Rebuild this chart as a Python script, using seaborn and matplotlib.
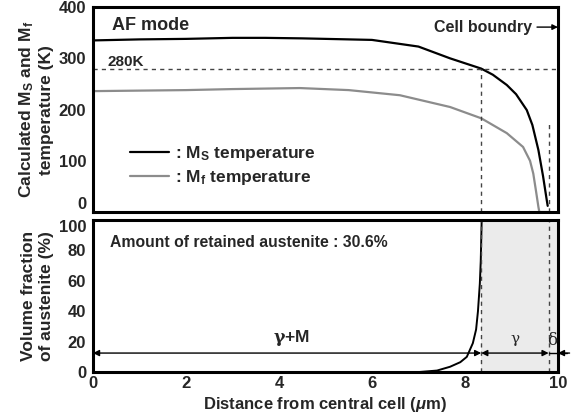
import numpy as np
import pandas as pd
import matplotlib
matplotlib.use("Agg")
import matplotlib.pyplot as plt
import seaborn as sns

# ---- data ----
ms_x = [0, 1, 2, 3, 3.7, 4.5, 5, 6, 7, 7.68, 8.35, 8.6, 8.9, 9.1, 9.33, 9.45, 9.58, 9.68, 9.76, 9.78]
ms_y = [335, 337, 338, 340, 340, 339, 338, 336, 323, 300, 280, 268, 248, 230, 199, 170, 121, 70, 23, 12]
mf_x = [0, 1, 2, 3, 4.45, 5.5, 6.6, 7.68, 8.35, 8.9, 9.25, 9.4, 9.47, 9.53, 9.58, 9.6, 9.8]
mf_y = [236, 237, 238, 240, 242, 238, 228, 205, 183, 154, 127, 100, 75, 40, 10, 0, 0]
fr_x = [0, 7.0, 7.4, 7.68, 7.9, 8.04, 8.17, 8.24, 8.28, 8.32, 8.34, 8.36]
fr_y = [0, 0, 1, 3.5, 6.5, 10, 19, 28, 40, 58, 73, 100]
ms_280_x = 8.35
delta_x = 9.8
x_ticks = [0, 2, 4, 6, 8, 10]
top_yticks = [0, 100, 200, 300, 400]
bot_yticks = [0, 20, 40, 60, 80, 100]

sns.set_style("white")
plt.rcParams['font.family'] = ['Liberation Sans', 'DejaVu Sans']
plt.rcParams['font.weight'] = 'bold'
plt.rcParams['mathtext.fontset'] = 'custom'
plt.rcParams['mathtext.rm'] = 'Liberation Sans:bold'
plt.rcParams['mathtext.bf'] = 'Liberation Sans:bold'
plt.rcParams['mathtext.it'] = 'Liberation Sans:italic:bold'

fig = plt.figure(figsize=(5.74, 4.19), dpi=100)
ax1 = fig.add_axes([0.162, 0.494, 0.810, 0.489])
ax2 = fig.add_axes([0.162, 0.112, 0.810, 0.363])

df_ms = pd.DataFrame({"x": ms_x, "y": ms_y})
df_mf = pd.DataFrame({"x": mf_x, "y": mf_y})
df_fr = pd.DataFrame({"x": fr_x, "y": fr_y})

sns.lineplot(data=df_ms, x="x", y="y", ax=ax1, color="black", lw=1.6, sort=False,
             label=r": $\mathbf{M_S}$ temperature")
sns.lineplot(data=df_mf, x="x", y="y", ax=ax1, color="#8c8c8c", lw=1.6, sort=False,
             label=r": $\mathbf{M_f}$ temperature")
ax1.axhline(280, color="#444444", lw=1.0, ls=(0, (3, 3)))
ax1.plot([ms_280_x, ms_280_x], [0, 280], color="#444444", lw=1.0, ls=(0, (3, 3)))
ax1.plot([delta_x, delta_x], [0, 175], color="#444444", lw=1.0, ls=(0, (3, 3)))

leg = ax1.legend(loc="lower left", bbox_to_anchor=(0.045, 0.045), frameon=False,
                 handlelength=2.3, handletextpad=0.3, labelspacing=0.3,
                 prop={"size": 12.5, "weight": "bold"})

ax1.text(0.4, 364, "AF mode", fontsize=13, fontweight="bold", va="center")
ax1.text(0.32, 292, "280K", fontsize=11, fontweight="bold", va="center")
ax1.annotate("", xy=(10.0, 361), xytext=(9.55, 361),
             arrowprops=dict(arrowstyle="-|>", color="black", lw=1.0, mutation_scale=8,
                             shrinkA=0, shrinkB=0))
ax1.text(9.45, 361, "Cell boundry", fontsize=11.5, fontweight="bold", ha="right", va="center")

ax1.set_xlim(0, 10)
ax1.set_ylim(0, 400)
ax1.set_xticks(x_ticks)
ax1.set_xticklabels([])
ax1.set_yticks(top_yticks)
ax1.set_xlabel("")
ax1.set_ylabel("Calculated M$_\\mathbf{S}$ and M$_\\mathbf{f}$\ntemperature (K)",
               fontsize=12.5, fontweight="bold", labelpad=3, linespacing=1.3)

# bottom panel
ax2.axvspan(ms_280_x, 10, color="#ebebeb", lw=0)
sns.lineplot(data=df_fr, x="x", y="y", ax=ax2, color="black", lw=1.4, sort=False)
ax2.axvline(ms_280_x, color="#444444", lw=1.0, ls=(0, (3, 3)))
ax2.axvline(delta_x, color="#444444", lw=1.0, ls=(0, (3, 3)))

ay = 12.5
ap = dict(arrowstyle="<|-|>", color="black", lw=1.0, mutation_scale=9, shrinkA=0, shrinkB=0)
ax2.annotate("", xy=(0, ay), xytext=(ms_280_x, ay), arrowprops=ap)
ax2.annotate("", xy=(ms_280_x, ay), xytext=(delta_x, ay), arrowprops=ap)
ax2.plot([delta_x, 10.2], [ay, ay], color="black", lw=1.0, clip_on=False)
ax2.annotate("", xy=(10.0, ay), xytext=(10.25, ay),
             arrowprops=dict(arrowstyle="-|>", color="black", lw=1.0, mutation_scale=9,
                             shrinkA=0, shrinkB=0), annotation_clip=False)
ax2.text(ms_280_x / 2 + 0.1, 16, r"$\mathrm{\gamma}$+M", fontsize=12.5, fontweight="bold",
         ha="center", va="bottom", math_fontfamily="dejavuserif")
ax2.text((ms_280_x + delta_x) / 2, 17, "γ", fontsize=11, family="DejaVu Serif",
         fontweight="normal", ha="center", va="bottom")
ax2.text(9.88, 15, "δ", fontsize=12, family="DejaVu Serif", fontweight="normal",
         ha="center", va="bottom")
ax2.text(0.37, 85.5, "Amount of retained austenite : 30.6%", fontsize=11.3,
         fontweight="bold", va="center")

ax2.set_xlim(0, 10)
ax2.set_ylim(0, 100)
ax2.set_xticks(x_ticks)
ax2.set_xticklabels([str(t) for t in x_ticks])
ax2.set_yticks(bot_yticks)
ax2.set_xlabel("Distance from central cell ($\\mathit{\\mu}$m)", fontsize=12,
               fontweight="bold", labelpad=3)
ax2.set_ylabel("Volume fraction\nof austenite (%)", fontsize=12.5, fontweight="bold",
               labelpad=3, linespacing=1.3)

for ax in (ax1, ax2):
    for s in ax.spines.values():
        s.set_linewidth(2.2)
        s.set_color("black")
    ax.tick_params(axis="x", direction="in", length=5, width=1.2, labelsize=12, pad=3)
    ax.tick_params(axis="y", direction="out", length=4, width=1.2, labelsize=12, pad=1)
    for lab in ax.get_xticklabels() + ax.get_yticklabels():
        lab.set_fontweight("bold")

# keep the touching 0 / 100 labels apart, as in the reference
ax1.get_yticklabels()[0].set_verticalalignment("bottom")
ax2.get_yticklabels()[-1].set_verticalalignment("top")

fig.savefig("out.png", dpi=100)
